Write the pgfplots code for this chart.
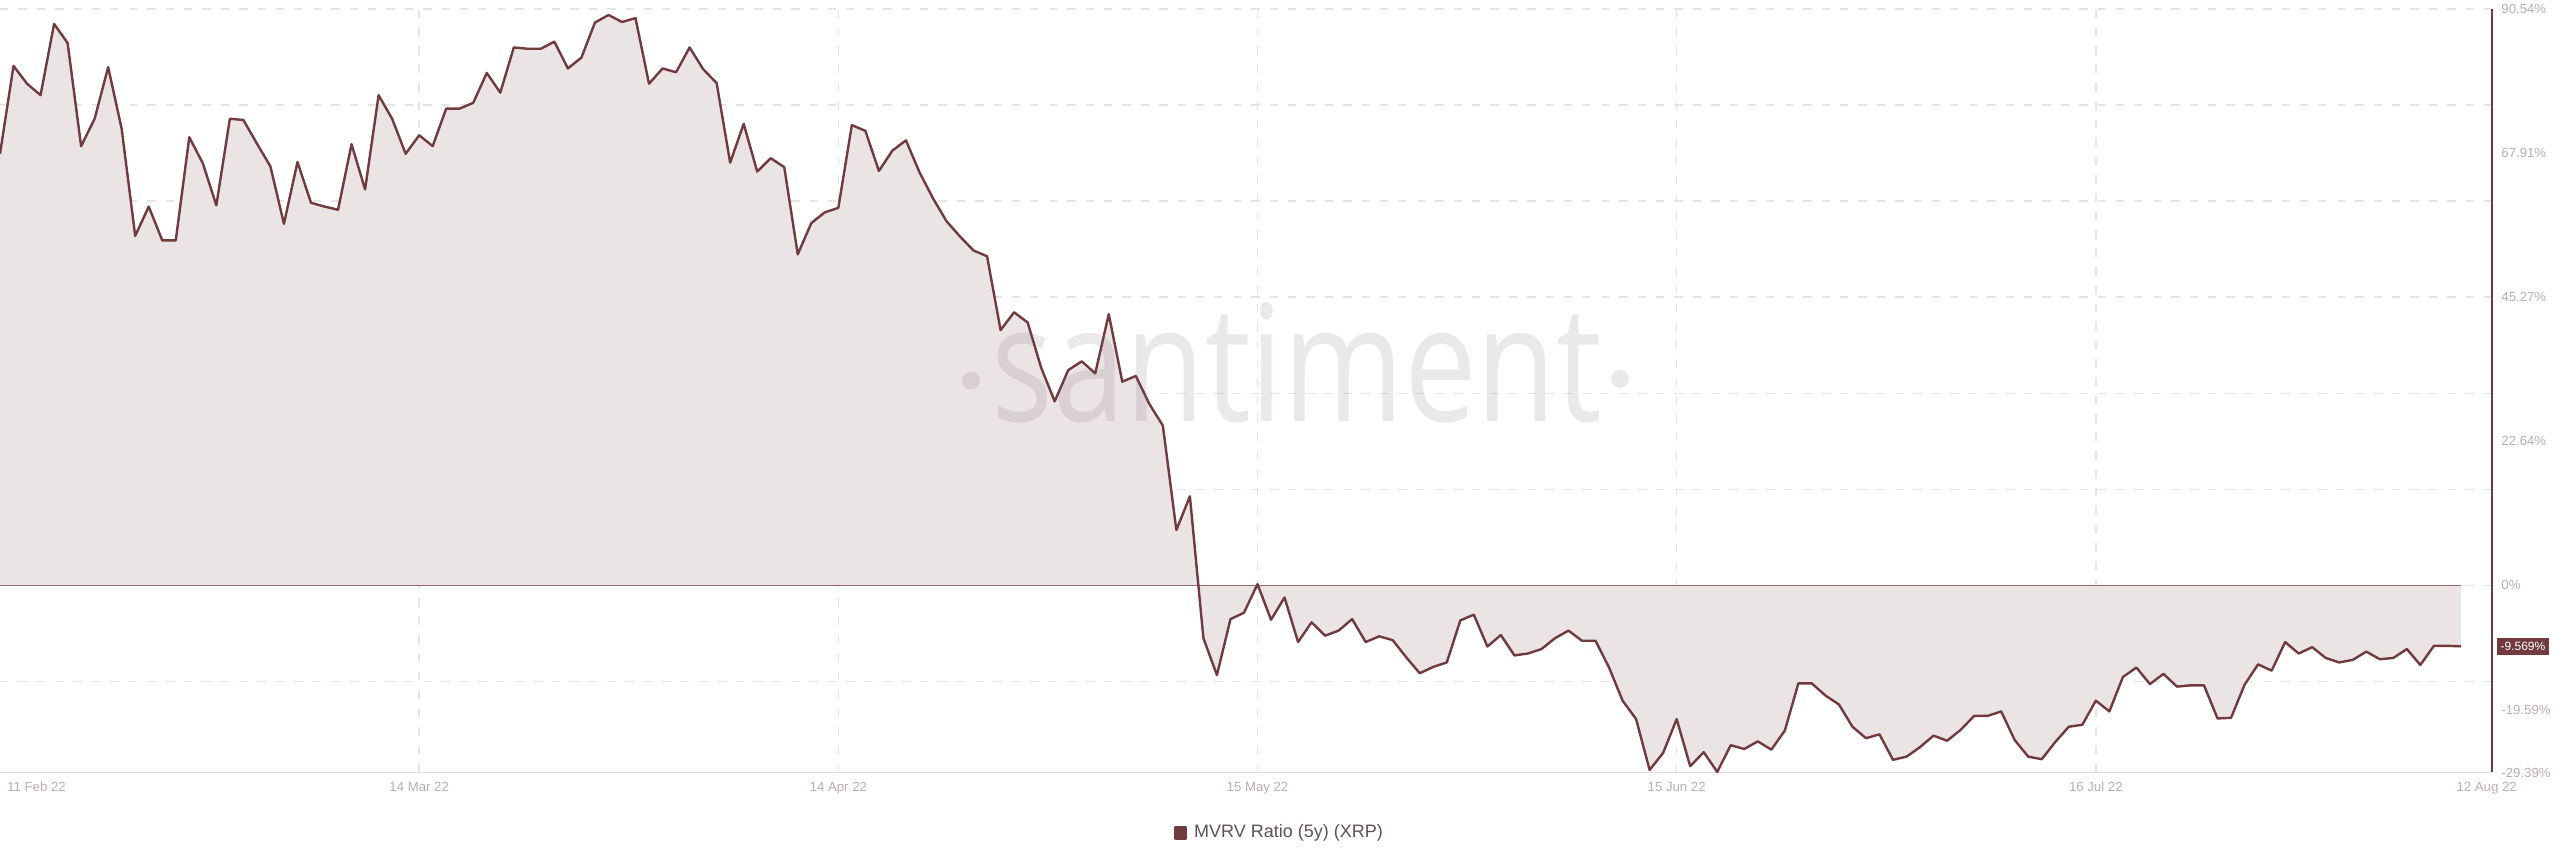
\documentclass[border=0pt]{standalone}
\usepackage{graphicx}
\usepackage{fontspec}
\setmainfont{Liberation Sans}
\newfontfamily\wmfont{Open Sans}
\usepackage{pgfplots}
\usepackage{pgfplotstable}
\pgfplotsset{compat=1.18}

\definecolor{lineclr}{RGB}{112,58,62}
\definecolor{fillclr}{RGB}{234,228,229}
\definecolor{gridclr}{RGB}{230,227,228}
\definecolor{axisgray}{RGB}{224,220,222}
\definecolor{tickclr}{RGB}{186,173,177}
\definecolor{legtext}{RGB}{95,80,84}
\definecolor{baseclr}{RGB}{150,105,110}
\definecolor{wmclr}{RGB}{110,90,100}

\pgfplotstableread{
day val
0 67.8
1 81.6
2 78.8
3 77.0
4 88.2
5 85.2
6 69.0
7 73.3
8 81.4
9 71.7
10 54.9
11 59.5
12 54.2
13 54.2
14 70.4
15 66.3
16 59.7
17 73.3
18 73.1
19 69.4
20 65.8
21 56.8
22 66.5
23 60.1
24 59.5
25 59.0
26 69.3
27 62.2
28 77.0
29 73.3
30 67.8
31 70.7
32 69.0
33 74.9
34 74.9
35 75.8
36 80.5
37 77.4
38 84.5
39 84.3
40 84.3
41 85.4
42 81.2
43 82.9
44 88.4
45 89.6
46 88.5
47 89.1
48 78.8
49 81.2
50 80.6
51 84.5
52 81.1
53 78.9
54 66.4
55 72.5
56 65.0
57 67.1
58 65.7
59 52.0
60 56.9
61 58.6
62 59.3
63 72.3
64 71.4
65 65.1
66 68.3
67 69.9
68 64.9
69 60.8
70 57.2
71 54.8
72 52.6
73 51.7
74 40.1
75 42.9
76 41.3
77 34.2
78 28.9
79 33.8
80 35.2
81 33.3
82 42.6
83 32.0
84 32.9
85 28.5
86 25.1
87 8.7
88 14.0
89 -8.3
90 -14.1
91 -5.3
92 -4.3
93 0.2
94 -5.4
95 -1.9
96 -8.9
97 -5.8
98 -7.9
99 -7.1
100 -5.3
101 -8.9
102 -8.0
103 -8.6
104 -11.3
105 -13.8
106 -12.8
107 -12.1
108 -5.5
109 -4.6
110 -9.6
111 -7.8
112 -11.0
113 -10.7
114 -10.0
115 -8.3
116 -7.1
117 -8.7
118 -8.7
119 -12.9
120 -18.1
121 -21.0
122 -29.0
123 -26.3
124 -21.0
125 -28.4
126 -26.2
127 -29.3
128 -25.1
129 -25.7
130 -24.5
131 -25.8
132 -22.8
133 -15.4
134 -15.4
135 -17.3
136 -18.7
137 -22.2
138 -24.0
139 -23.4
140 -27.4
141 -26.9
142 -25.4
143 -23.6
144 -24.4
145 -22.7
146 -20.5
147 -20.5
148 -19.8
149 -24.3
150 -26.9
151 -27.3
152 -24.6
153 -22.2
154 -21.9
155 -18.1
156 -19.8
157 -14.4
158 -12.9
159 -15.5
160 -13.9
161 -15.9
162 -15.7
163 -15.7
164 -20.9
165 -20.8
166 -15.6
167 -12.4
168 -13.4
169 -8.9
170 -10.7
171 -9.7
172 -11.4
173 -12.1
174 -11.7
175 -10.4
176 -11.6
177 -11.4
178 -10.0
179 -12.5
180 -9.5
181 -9.5
182 -9.569
}\mvrv

\begin{document}
\begin{tikzpicture}
\useasboundingbox (0,0) rectangle (1280pt,433.5pt);
\begin{axis}[
  at={(0pt,47.25pt)}, anchor=south west,
  scale only axis, width=1246pt, height=381.75pt,
  xmin=0, xmax=184.3, ymin=-29.39, ymax=90.54,
  axis x line*=bottom, axis y line*=right,
  x axis line style={-, draw=axisgray, line width=0.9pt},
  y axis line style={-, draw=lineclr, line width=1pt},
  major tick length=0pt, minor tick length=0pt,
  xtick={31,62,93,124,155},
  xticklabels={14 Mar 22,14 Apr 22,15 May 22,15 Jun 22,16 Jul 22},
  extra x ticks={2.7,183.9},
  extra x tick labels={11 Feb 22,12 Aug 22},
  extra x tick style={grid=none},
  xmajorgrids,
  ytick={-29.39,-19.59,0,22.64,45.27,67.91,90.54},
  yticklabels={-29.39\%,-19.59\%,0\%,22.64\%,45.27\%,67.91\%,90.54\%},
  minor ytick={-15.09,0,15.09,30.18,45.27,60.36,75.45,90.54},
  yminorgrids,
  extra y ticks={-9.569},
  extra y tick labels={-9.569\%},
  extra y tick style={grid=none, yticklabel style={fill=lineclr, text=white, inner xsep=1.6pt, inner ysep=2.2pt, xshift=-2pt, font=\fontsize{6}{7}\selectfont}},
  grid style={draw=gridclr, line width=0.7pt, dash pattern=on 4.2pt off 5pt},
  minor grid style={draw=gridclr, line width=0.7pt, dash pattern=on 4.2pt off 5pt},
  xticklabel style={font=\fontsize{6.6}{7.5}\selectfont, text=tickclr, anchor=base, yshift=-9.5pt},
  yticklabel style={font=\fontsize{6.6}{7.5}\selectfont, text=tickclr, anchor=west, inner sep=0pt, xshift=4.5pt},
  legend style={at={(0.5136,-0.0792)}, anchor=center, draw=none, fill=none,
    font=\fontsize{9}{10}\selectfont, text=legtext, inner sep=0pt,
    nodes={inner sep=1.5pt}},
  legend image code/.code={\fill[lineclr] (0pt,-2.75pt) rectangle (5.5pt,2.75pt); \path (7.5pt,0pt);},
]
\addplot[draw=none, fill=fillclr, forget plot] table[x=day, y=val] {\mvrv} \closedcycle;
\addplot[baseclr, line width=0.6pt, forget plot] coordinates {(0,0) (182,0)};
\addplot[lineclr, line width=1.2pt, line join=round] table[x=day, y=val] {\mvrv};
\addlegendentry{MVRV Ratio (5y) (XRP)}
\end{axis}
\node[anchor=base, inner sep=0pt, text=wmclr, opacity=0.14] at (648.5pt,222.65pt)
  {\resizebox{305pt}{\height}{\wmfont\fontsize{81}{81}\selectfont santiment}};
\fill[wmclr, opacity=0.14] (485.5pt,243.15pt) circle (4.5pt);
\fill[wmclr, opacity=0.14] (810pt,244pt) circle (4.5pt);
\end{tikzpicture}
\end{document}
